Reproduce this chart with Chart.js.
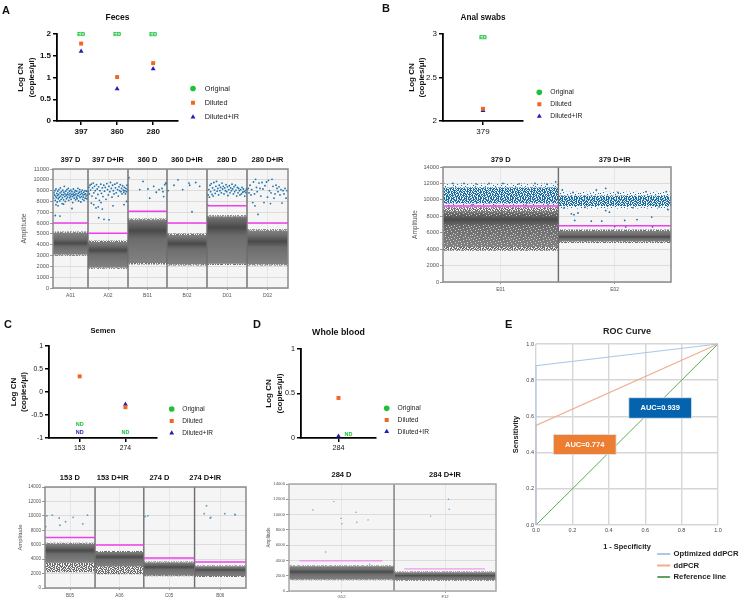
<!DOCTYPE html>
<html>
<head>
<meta charset="utf-8">
<title>ddPCR droplet plots and ROC curve</title>
<script src="https://cdn.jsdelivr.net/npm/chart.js@4"></script>
<style>
  html, body { margin: 0; width: 741px; height: 602px; overflow: hidden; background: #fff; }
  canvas { position: absolute; filter: blur(0.4px); }
  .letter { position: absolute; font: bold 11px/12px "Liberation Sans", Arial, sans-serif; color: #111; filter: blur(0.3px); }
</style>
</head>
<body>
<div class="letter" style="left:2px;top:4px">A</div>
<div class="letter" style="left:382px;top:2px">B</div>
<div class="letter" style="left:4px;top:318px">C</div>
<div class="letter" style="left:253px;top:318px">D</div>
<div class="letter" style="left:505px;top:318px">E</div>
<script>
Chart.defaults.font.family = '"Liberation Sans", Arial, sans-serif';
Chart.defaults.animation = false;

const seriesNames = ["Original", "Diluted", "Diluted+IR"];
const seriesColors = ["#1fc13a", "#f26522", "#1f1fb4"];
const seriesShapes = ["circle", "rect", "triangle"];

// log copy number panels
const fecesSamples = ["397", "360", "280"];
const fecesOriginal = [2, 2, 1.99];
const fecesDiluted = [1.78, 1.01, 1.33];
const fecesIR = [1.6, 0.74, 1.2];
const fecesOriginalTags = ["ED", "ED", "ED"];

const analSamples = ["379"];
const analOriginal = [2.96];
const analDiluted = [2.14];
const analIR = [2.12];
const analOriginalTags = ["ED"];

const semenSamples = ["153", "274"];
const semenOriginal = [-0.7, -0.89];
const semenDiluted = [0.34, -0.33];
const semenIR = [-0.89, -0.27];
const semenOriginalTags = ["ND", "ND"];
const semenIRTags = ["ND", null];

const bloodSamples = ["284"];
const bloodOriginal = [0.035];
const bloodDiluted = [0.45];
const bloodIR = [0.02];
const bloodOriginalTags = ["ND"];

// droplet plots, x axis is the droplet event number
const fecesEdges = [0, 3500, 7500, 11400, 15400, 19400, 23500];
const fecesWells = ["A01", "A02", "B01", "B02", "D01", "D02"];
const fecesTitles = ["397 D", "397 D+IR", "360 D", "360 D+IR", "280 D", "280 D+IR"];
const fecesThresholds = [6000, 5050, 7100, 6000, 7600, 6000];
const fecesLow = [3100, 1900, 2300, 2200, 2250, 2200];
const fecesCore = [4150, 3500, 5300, 4100, 5600, 4300];
const fecesHigh = [5100, 4250, 6300, 4900, 6600, 5300];
const fecesFringe = [130, 130, 130, 130, 130, 130];
const fecesPositive = [
  [60,8300],[100,8800],[150,8600],[190,9000],[230,8100],[260,8500],[300,9150],[340,8350],[380,8750],[420,7950],
  [450,8550],[480,8950],[530,8250],[560,8650],[590,9100],[630,8400],[670,8050],[700,8800],[740,9250],[770,8500],
  [810,8200],[840,8900],[880,8650],[910,7800],[950,8350],[980,9050],[1020,8600],[1060,8150],[1090,8850],[1130,9400],
  [1170,8450],[1200,8700],[1240,8000],[1270,8950],[1310,8550],[1350,8250],[1380,9100],[1420,8650],[1460,8400],[1490,8800],
  [1530,9200],[1570,8100],[1600,8600],[1640,8950],[1680,8350],[1710,8750],[1750,8500],[1790,9050],[1820,8200],[1860,8650],
  [1900,8900],[1930,8450],[1970,7900],[2010,8700],[2040,9150],[2080,8550],[2120,8300],[2150,8850],[2190,8600],[2230,9000],
  [2260,8150],[2300,8700],[2340,8400],[2370,8950],[2410,8250],[2450,8550],[2490,9200],[2520,8750],[2560,8050],[2600,8500],
  [2630,8850],[2670,9100],[2710,8350],[2740,8650],[2780,7950],[2820,8900],[2850,8450],[2890,8750],[2930,9050],[2960,8200],
  [3000,8600],[3040,8400],[3070,8850],[3110,8100],[3150,8650],[3190,9000],[3220,8300],[3260,8700],[3300,8500],[3340,8950],
  [3380,8250],[3440,8600],[300,7700],[500,7600],[230,6700],[700,6650],[1050,7750],[1900,7350],
  [3530,8900],[3580,9300],[3640,8700],[3700,9500],[3760,9050],[3830,9600],[3900,8500],[3960,9250],[4020,9700],[4080,8800],
  [4150,9400],[4220,9000],[4290,8300],[4350,9550],[4420,9150],[4490,8650],[4560,9350],[4640,8100],[4700,9000],[4780,9600],
  [4850,8750],[4930,9250],[5000,8450],[5080,9500],[5150,8950],[5230,9300],[5300,8200],[5380,9650],[5450,9100],[5530,8600],
  [5600,9400],[5680,8900],[5750,9750],[5830,9200],[5900,8400],[5960,9500],[6030,9000],[6100,8700],[6180,9600],[6250,9250],
  [6320,8800],[6400,9700],[6460,9100],[6530,8500],[6600,9350],[6660,9000],[6730,9550],[6790,8900],[6850,9200],[6900,8700],
  [6960,9450],[7020,9050],[7080,8850],[7130,9300],[7190,9000],[7240,8700],[7290,9200],[7340,8900],[7400,9500],[7450,9100],
  [4570,6500],[5100,6350],[5600,6300],[4520,7500],[4070,7700],[4930,7300],[3830,7850],[6000,7600],[4300,7400],[4800,7900],
  [7350,8000],[7100,7700],
  [7600,10200],[9000,9850],[8670,9100],[9500,9150],[9670,8300],[10070,9400],[10600,9100],[10900,9200],[11070,8450],[11170,9550],
  [11270,9700],[11330,9650],[10330,8850],[11000,8900],
  [12500,10000],[12100,9500],[12970,9100],[13600,9700],[13670,9500],[14270,9750],[14670,9400],[13900,7050],[11500,9000],
  [15480,7650],[15520,8600],[15580,9100],[15640,8400],[15700,9500],[15760,8900],[15830,9650],[15900,8650],[15960,9250],[16020,8500],
  [16090,9750],[16150,9050],[16220,8750],[16290,9400],[16350,9850],[16420,8950],[16490,9200],[16560,8600],[16630,9500],[16700,9000],
  [16760,9300],[16830,8800],[16900,9700],[16960,9150],[17030,9400],[17100,8700],[17170,9250],[17240,9000],[17300,9550],[17370,8900],
  [17440,9350],[17500,8550],[17570,9100],[17640,9450],[17700,8800],[17770,9250],[17840,9000],[17900,9600],[17970,9150],[18040,8700],
  [18100,9350],[18170,8900],[18240,9500],[18300,9050],[18370,8500],[18440,9300],[18500,8800],[18570,9200],[18640,9000],[18700,8600],
  [18770,9100],[18840,8700],[18900,9300],[18970,8850],[19040,9150],[19100,8900],[19170,8500],[19240,9000],[19300,8800],[19360,9150],
  [19530,9200],[19600,8800],[19700,9500],[19800,8600],[19870,9100],[19980,7900],[20050,9800],[20150,8700],[20200,7600],[20260,10050],
  [20350,9300],[20420,8900],[20500,6800],[20600,9700],[20700,9200],[20780,8500],[20900,9750],[21000,9150],[21100,7900],[21200,9450],
  [21350,9800],[21450,8400],[21550,9950],[21650,9000],[21750,7800],[21800,8800],[21900,10050],[22000,9400],[22100,8300],[22200,8700],
  [22300,9500],[22400,9200],[22500,8900],[22600,9350],[22700,8600],[22800,9100],[22900,7850],[23000,9000],[23100,8700],[23200,9200],
  [23300,8300],[23400,9000]
];

const analEdges = [0, 11540, 22800];
const analWells = ["E01", "E02"];
const analTitles = ["379 D", "379 D+IR"];
const analThresholds = [9250, 6850];
const analLow = [4250, 4950];
const analCore = [7600, 5500];
const analHigh = [8650, 6200];
const analFringe = [450, 200];
const analCloudLow = [9600, 9250];
const analCloudHigh = [11500, 10500];
const analSpeckleLow = [4300, 8000];
const analSpeckleHigh = [7000, 8650];
const analPositive = [
  [11270,12200],[2100,12000],[6000,12000],[1000,12000],[3300,11950],[4600,12000],[7600,11950],[9200,12000],[10400,11900],
  [550,9300],[2900,9400],[5200,9300],[8300,9350],[10500,9400],
  [12840,8300],[13100,8200],[13500,8400],[13170,7500],[14830,7400],[15870,7400],[16270,8700],[16640,8500],[18170,7500],
  [19400,7600],[20870,7900],[17170,6750],[18270,6700],[20950,6700],[22500,8800],[15330,11200],[16270,11400],[11930,11200],
  [22330,11000],[20300,11000],[17500,10900],[13000,10900],[12100,9000],[14200,9100],[19000,9050],[21600,9150]
];

const semenEdges = [0, 5030, 9930, 15030, 20200];
const semenWells = ["B05", "A06", "C05", "B06"];
const semenTitles = ["153 D", "153 D+IR", "274 D", "274 D+IR"];
const semenTitleEvents = [2500, 6800, 11500, 16100];
const semenThresholds = [7000, 5950, 4150, 3600];
const semenLow = [3500, 3000, 1750, 1650];
const semenCore = [5200, 4300, 2900, 2500];
const semenHigh = [6150, 5000, 3550, 3000];
const semenFringe = [130, 130, 130, 130];
const semenLooseLow = [2200, 1900, 1650, 1550];
const semenLooseHigh = [3500, 3000, 1750, 1650];
const semenPositive = [
  [70,8500],[200,10000],[730,10100],[1430,9700],[1500,8700],[2070,9200],[2830,9800],[3800,8900],[4270,10100],
  [10070,9900],[10330,10000],[16000,10300],[16230,11400],[16600,9700],[16670,9800],[18070,10300],[19070,10200],[19130,10150]
];

const bloodEdges = [0, 10540, 20770];
const bloodWells = ["G12", "F12"];
const bloodTitles = ["284 D", "284 D+IR"];
const bloodThresholds = [3950, 2900];
const bloodThresholdFrom = [1070, 11570];
const bloodThresholdTo = [9370, 19670];
const bloodLow = [1500, 1450];
const bloodCore = [2500, 2000];
const bloodHigh = [3250, 2450];
const bloodFringe = [100, 100];
const bloodPositive = [
  [2400,10600],[3670,5100],[4500,11700],[5200,9500],[5300,8800],[6730,10300],[6800,9000],[7930,9300],[8100,3500],
  [14200,9800],[16070,10700],[16000,12000]
];

// ROC curve
const rocNames = ["Optimized ddPCR", "ddPCR", "Reference line"];
const rocColors = ["#a9c9ea", "#efae8e", "#4f9f4f"];
const rocFpr = [[0, 0, 1], [0, 0, 1], [0, 1]];
const rocTpr = [[0, 0.88, 1], [0, 0.55, 1], [0, 1]];
const rocTicks = [0, 0.2, 0.4, 0.6, 0.8, 1];
const aucLabels = ["AUC=0.939", "AUC=0.774"];
const aucColors = ["#0563ad", "#ed7d31"];
const aucLeft = [0.51, 0.095];
const aucRight = [0.855, 0.44];
const aucTop = [0.703, 0.5];
const aucBottom = [0.59, 0.39];

// texture tiles for droplet clouds too dense to list one by one
const denseTile = [
  "##.#.##.###..#.##.#..###.#.##.#.",
  ".#.###..#.##.#..###.##.#.###..##",
  "#.##.#.##..###.#.#.##.##..#.###.",
  "##..##.#.##.#.###..#.#.###.##..#",
  ".###.#.##.#..##.#.###.#..#.#.##.",
  "#.#.##..###.##.#.#..##.###.#.#.#",
  "##.#..###.#.#.###.##.#..#.###.#.",
  ".#.###.#.##..#.#.##.###.##.#..##",
  "#.##.#.#..###.##.#.#..#.#.###.#.",
  "##.#.##.##.#.#..###.##.###.#.#.#",
  ".#..###.#.###.#.#.##.#..#.##.##.",
  "#.##.#..##.#.###.#..###.#.#.#.##",
  "###.#.##.#.##..#.##.#.##.###.#..",
  ".#.##.#.###.#.##.#.###.#..#.##.#",
  "#..###.#.#..###.#.#.#.###.##.#.#",
  "##.#.##.#.##.#.##.##.#.#.##..##."
];
const sparseTile = [
  "....#.........#.....",
  ".#.......#.........#",
  "......#.......#.....",
  "...#........#....#..",
  "#.......#...........",
  ".....#.........#..#.",
  "..#.........#.......",
  ".......#.#.........#",
  "....#...........#...",
  "#.........#..#......",
  "......#.........#...",
  "..#.......#.........",
];

function tilePattern(rows, color) {
  const tile = document.createElement("canvas");
  tile.width = rows[0].length;
  tile.height = rows.length;
  const g = tile.getContext("2d");
  g.fillStyle = color;
  rows.forEach((row, y) => [...row].forEach((c, x) => { if (c === "#") g.fillRect(x, y, 1, 1); }));
  return g.createPattern(tile, "repeat");
}
const bluePattern = tilePattern(denseTile, "#1a6ea8");
const thinBluePattern = tilePattern(sparseTile, "#1a6ea8");
const grayPattern = tilePattern(denseTile, "#6e6e6e");
const whitePattern = tilePattern(sparseTile, "#cfcfcf");

function addCanvas(box) {
  const c = document.createElement("canvas");
  c.width = box.w;
  c.height = box.h;
  c.style.left = box.x + "px";
  c.style.top = box.y + "px";
  c.style.width = box.w + "px";
  c.style.height = box.h + "px";
  document.body.appendChild(c);
  return c;
}

//puts the legend where it sits in the figure, legend itself takes no layout room
function legendPlacer(box, x, y) {
  return {
    id: "legendPlacer",
    afterLayout(chart) {
      const lg = chart.legend;
      const pad = lg.options.labels.padding;
      const h = lg.options.labels.font.size;
      lg.left = x - box.x - pad;
      lg.right = lg.left + 200;
      lg.top = y - box.y - h / 2 - pad;
      lg.bottom = lg.top + 200;
    }
  };
}

//ED and ND are written in place of the marker
const tagPlugin = {
  id: "pointTags",
  afterDatasetsDraw(chart) {
    const ctx = chart.ctx;
    chart.data.datasets.forEach((ds, i) => {
      if (!ds.tags) return;
      chart.getDatasetMeta(i).data.forEach((el, k) => {
        if (!ds.tags[k]) return;
        const x = el.x + (ds.tagDx || 0);
        ctx.save();
        if (ds.tagBox) {
          ctx.fillStyle = ds.tagBox;
          ctx.fillRect(x - 3.8, el.y - 2.2, 7.6, 4.4);
        }
        ctx.font = 'bold 5.5px "Liberation Sans"';
        ctx.textAlign = "center";
        ctx.textBaseline = "middle";
        ctx.fillStyle = ds.tagColor;
        ctx.fillText(ds.tags[k], x, el.y);
        ctx.restore();
      });
    });
  }
};

function logChart(o) {
  const canvas = addCanvas(o.box);
  const numbers = o.samples.map((s, i) => i + 1);
  const points = vals => vals.map((v, i) => ({ x: numbers[i], y: v }));
  const hideTagged = tags => ctx => (tags && tags[ctx.dataIndex] ? 0 : 2.8);
  const padName = n => "   " + n;
  const axisFont = { size: o.tickSize, weight: o.tickWeight };
  const titleTop = o.titleY - o.box.y - o.titleSize * 0.6;
  new Chart(canvas, {
    type: "line",
    data: {
      datasets: [
        { label: padName(seriesNames[0]), data: points(o.original), tags: o.originalTags, tagColor: seriesColors[0],
          tagBox: o.tagBox, tagDx: o.tagDx, pointRadius: 0 },
        { label: padName(seriesNames[1]), data: points(o.diluted), pointRadius: 2.8 },
        { label: padName(seriesNames[2]), data: points(o.ir), tags: o.irTags, tagColor: seriesColors[2],
          pointRadius: hideTagged(o.irTags) }
      ].map((ds, i) => Object.assign(ds, {
        showLine: false,
        backgroundColor: seriesColors[i],
        borderColor: seriesColors[i],
        pointBorderWidth: 0,
        pointStyle: seriesShapes[i]
      }))
    },
    options: {
      responsive: false,
      layout: { padding: { right: o.box.x + o.box.w - o.plot.r, bottom: 0 } },
      plugins: {
        tooltip: { enabled: false },
        title: {
          display: true, text: o.title, fullSize: false, color: "#111",
          font: { size: o.titleSize, weight: "bold" },
          padding: { top: titleTop, bottom: o.plot.t - o.box.y - titleTop - o.titleSize * 1.2 }
        },
        legend: {
          position: "chartArea", align: "start",
          labels: {
            usePointStyle: true, boxWidth: 4, boxHeight: 4, padding: o.legendStep - o.legendSize,
            color: "#222", font: { size: o.legendSize }
          }
        }
      },
      scales: {
        x: {
          type: "linear", min: o.xMin, max: o.xMax,
          afterBuildTicks: s => { s.ticks = numbers.map(v => ({ value: v })); },
          afterFit: s => { s.height = o.box.y + o.box.h - o.plot.b; },
          border: { color: "#000", width: 1.8 },
          grid: { drawOnChartArea: false, color: "#000", lineWidth: 1.5, tickLength: 4 },
          ticks: { callback: (v, i) => o.samples[i], font: axisFont, color: "#111", padding: 2, autoSkip: false, maxRotation: 0 }
        },
        y: {
          min: o.yMin, max: o.yMax,
          afterFit: s => { s.width = o.plot.l - o.box.x; },
          border: { color: "#000", width: 1.8 },
          grid: { drawOnChartArea: false, color: "#000", lineWidth: 1.5, tickLength: 4 },
          ticks: { stepSize: o.yStep, callback: v => v, font: axisFont, color: "#111", padding: 2 },
          title: {
            display: true, text: ["Log CN", "(copies/μl)"], color: "#111", padding: 0,
            font: { size: 8, weight: "bold", lineHeight: o.titleLine }
          }
        }
      }
    },
    plugins: [tagPlugin, legendPlacer(o.box, o.legendX, o.legendY)]
  });
}

const plotBackground = {
  id: "plotBackground",
  beforeDraw(chart) {
    const a = chart.chartArea;
    chart.ctx.fillStyle = "#f5f5f5";
    chart.ctx.fillRect(a.left, a.top, a.width, a.height);
  },
  afterDraw(chart) {
    const a = chart.chartArea;
    chart.ctx.strokeStyle = chart.options.frameColor || "#8a8a8a";
    chart.ctx.lineWidth = 1.5;
    chart.ctx.strokeRect(a.left, a.top, a.width, a.height);
  }
};

//filled strip between two amplitudes across one well
function strip(x0, x1, low, high, fill, order) {
  return {
    data: [{ x: x0, y: high }, { x: x1, y: high }],
    fill: { value: low }, backgroundColor: fill,
    borderWidth: 0, pointRadius: 0, order: order
  };
}

//negative droplet band, darkest around the most crowded amplitude
function bandFill(low, core, high) {
  return ctx => {
    const y = ctx.chart.scales.y;
    if (!ctx.chart.chartArea || !y) return "#666";
    const top = y.getPixelForValue(high);
    const g = ctx.chart.ctx.createLinearGradient(0, top, 0, y.getPixelForValue(low));
    const f = (high - core) / (high - low);
    g.addColorStop(0, "#828282");
    g.addColorStop(Math.max(0, f - 0.18), "#6c6c6c");
    g.addColorStop(f, "#4a4a4a");
    g.addColorStop(Math.min(1, f + 0.18), "#6c6c6c");
    g.addColorStop(1, "#828282");
    return g;
  };
}

function dropletChart(o) {
  const canvas = addCanvas(o.box);
  const edges = o.edges;
  const last = edges[o.wells.length];
  const centers = o.wells.map((w, i) => (edges[i] + edges[i + 1]) / 2);
  const titleEvents = o.titleEvents || centers;
  const datasets = [];
  o.wells.forEach((w, i) => {
    const x0 = edges[i];
    const x1 = edges[i + 1];
    const from = o.thresholdFrom ? o.thresholdFrom[i] : x0;
    const to = o.thresholdTo ? o.thresholdTo[i] : x1;
    datasets.push({
      data: [{ x: from, y: o.thresholds[i] }, { x: to, y: o.thresholds[i] }],
      borderColor: o.thresholdColor || "#ee3fee", borderWidth: o.thresholdWidth || 1.5, pointRadius: 0, order: 0
    });
    datasets.push(strip(x0, x1, o.low[i], o.high[i], bandFill(o.low[i], o.core[i], o.high[i]), 5));
    datasets.push(strip(x0, x1, o.high[i], o.high[i] + o.fringe[i], grayPattern, 4));
    datasets.push(strip(x0, x1, o.low[i] - o.fringe[i], o.low[i], grayPattern, 4));
    if (o.looseLow) datasets.push(strip(x0, x1, o.looseLow[i], o.looseHigh[i], grayPattern, 4));
    if (o.cloudLow) {
      datasets.push(strip(x0, x1, o.cloudLow[i], o.cloudHigh[i], bluePattern, 3));
      datasets.push(strip(x0, x1, o.cloudHigh[i], o.cloudHigh[i] + 500, thinBluePattern, 3));
      datasets.push(strip(x0, x1, o.cloudLow[i] - 300, o.cloudLow[i], thinBluePattern, 3));
    }
    if (i > 0) {
      datasets.push({
        data: [{ x: x0, y: 0 }, { x: x0, y: o.yMax }],
        borderColor: o.dividerColor || "#6c6c6c", borderWidth: 1.4, pointRadius: 0, order: 1
      });
    }
  });
  //the pale flecks only fall inside the first well of panel B
  if (o.speckleLow) {
    o.speckleLow.forEach((lo, k) => {
      datasets.push(strip(edges[0], edges[1], lo, o.speckleHigh[k], whitePattern, 3));
    });
  }
  datasets.push({
    data: o.positive.map(p => ({ x: p[0], y: p[1] })),
    showLine: false, pointRadius: o.dotSize, pointBorderWidth: 0,
    backgroundColor: o.dotColor, borderColor: o.dotColor, order: 2
  });
  new Chart(canvas, {
    type: "line",
    data: { datasets: datasets },
    options: {
      responsive: false,
      frameColor: o.frameColor,
      layout: { padding: { right: o.box.x + o.box.w - o.plot.r } },
      plugins: { legend: { display: false }, tooltip: { enabled: false } },
      scales: {
        x: {
          type: "linear", min: 0, max: last,
          afterBuildTicks: s => { s.ticks = centers.map(v => ({ value: v })); },
          afterFit: s => { s.height = o.box.y + o.box.h - o.plot.b; },
          border: { display: false },
          grid: { color: "#e6e6e6", tickColor: "#999", tickLength: 2 },
          ticks: { callback: (v, i) => o.wells[i], font: { size: o.wellSize }, color: "#555", padding: o.wellPad, autoSkip: false, maxRotation: 0 }
        },
        xTop: {
          type: "linear", position: "top", min: 0, max: last,
          afterBuildTicks: s => { s.ticks = titleEvents.map(v => ({ value: v })); },
          afterFit: s => { s.height = o.plot.t - o.box.y; },
          border: { display: false },
          grid: { display: false, drawTicks: false },
          ticks: { callback: (v, i) => o.titles[i], font: { size: 7.5, weight: "bold" }, color: "#111", padding: o.titlePad, autoSkip: false, maxRotation: 0 }
        },
        y: {
          min: 0, max: o.yMax,
          afterFit: s => { s.width = o.plot.l - o.box.x; },
          border: { display: false },
          grid: { color: "#dcdcdc", lineWidth: 1, tickColor: "#999", tickLength: 3 },
          ticks: { stepSize: o.yStep, callback: v => v, font: { size: o.ampTickSize }, color: "#555", padding: 1 },
          title: { display: true, text: "Amplitude", color: "#555", padding: 0, font: { size: o.ampSize } }
        }
      }
    },
    plugins: [plotBackground]
  });
}

// A, feces
logChart({
  box: { x: 15, y: 8, w: 240, h: 132 }, plot: { l: 57, t: 34, r: 178, b: 121 },
  title: "Feces", titleSize: 8.5, titleY: 18, titleLine: 1.4,
  samples: fecesSamples, original: fecesOriginal, diluted: fecesDiluted, ir: fecesIR,
  originalTags: fecesOriginalTags, tagBox: "#b5edc0",
  xMin: 0.33, xMax: 3.69, yMin: 0, yMax: 2, yStep: 0.5,
  tickSize: 8, tickWeight: "bold",
  legendX: 191, legendY: 88.5, legendStep: 14.3, legendSize: 7.3
});
dropletChart({
  box: { x: 20, y: 152, w: 272, h: 152 }, plot: { l: 53, t: 169, r: 288, b: 288 },
  edges: fecesEdges, wells: fecesWells, titles: fecesTitles, thresholds: fecesThresholds,
  low: fecesLow, core: fecesCore, high: fecesHigh, positive: fecesPositive, fringe: fecesFringe,
  yMax: 11000, yStep: 1000, dotSize: 0.9, dotColor: "#1b72ad",
  wellSize: 5, wellPad: 2.5, titlePad: 5, ampTickSize: 5.6, ampSize: 6.8
});

// B, anal swabs
logChart({
  box: { x: 406, y: 8, w: 240, h: 132 }, plot: { l: 443, t: 34, r: 523, b: 121 },
  title: "Anal swabs", titleSize: 8.2, titleY: 18, titleLine: 1.35,
  samples: analSamples, original: analOriginal, diluted: analDiluted, ir: analIR,
  originalTags: analOriginalTags, tagBox: "#b5edc0",
  xMin: 0, xMax: 2, yMin: 2, yMax: 3, yStep: 0.5,
  tickSize: 8, tickWeight: "normal",
  legendX: 537.3, legendY: 92.3, legendStep: 12, legendSize: 6.8
});
dropletChart({
  box: { x: 411, y: 150, w: 264, h: 146 }, plot: { l: 443, t: 167, r: 671, b: 282 },
  edges: analEdges, wells: analWells, titles: analTitles, thresholds: analThresholds,
  low: analLow, core: analCore, high: analHigh, positive: analPositive, fringe: analFringe,
  cloudLow: analCloudLow, cloudHigh: analCloudHigh, speckleLow: analSpeckleLow, speckleHigh: analSpeckleHigh,
  yMax: 14000, yStep: 2000, dotSize: 0.9, dotColor: "#1b72ad",
  wellSize: 5, wellPad: 3, titlePad: 3, ampTickSize: 5.6, ampSize: 6.5
});

// C, semen
logChart({
  box: { x: 8, y: 326, w: 230, h: 130 }, plot: { l: 49, t: 346, r: 157, b: 438 },
  title: "Semen", titleSize: 7.6, titleY: 331, titleLine: 1.35,
  samples: semenSamples, original: semenOriginal, diluted: semenDiluted, ir: semenIR,
  originalTags: semenOriginalTags, irTags: semenIRTags,
  xMin: 0.33, xMax: 2.69, yMin: -1, yMax: 1, yStep: 0.5,
  tickSize: 6.8, tickWeight: "normal",
  legendX: 169.7, legendY: 409, legendStep: 12, legendSize: 6.5
});
dropletChart({
  box: { x: 17, y: 468, w: 233, h: 134 }, plot: { l: 45, t: 487, r: 247, b: 588 },
  edges: semenEdges, wells: semenWells, titles: semenTitles, titleEvents: semenTitleEvents, thresholds: semenThresholds,
  low: semenLow, core: semenCore, high: semenHigh, positive: semenPositive, fringe: semenFringe,
  looseLow: semenLooseLow, looseHigh: semenLooseHigh,
  yMax: 14000, yStep: 2000, dotSize: 0.9, dotColor: "#5b9dc6",
  wellSize: 4.6, wellPad: 2.5, titlePad: 5, ampTickSize: 4.6, ampSize: 5.9
});

// D, whole blood
logChart({
  box: { x: 264, y: 326, w: 230, h: 130 }, plot: { l: 301, t: 349, r: 376, b: 438 },
  title: "Whole blood", titleSize: 8.8, titleY: 333, titleLine: 1.3,
  samples: bloodSamples, original: bloodOriginal, diluted: bloodDiluted, ir: bloodIR,
  originalTags: bloodOriginalTags, tagDx: 10,
  xMin: 0, xMax: 2, yMin: 0, yMax: 1, yStep: 0.5,
  tickSize: 7.2, tickWeight: "normal",
  legendX: 384.7, legendY: 408.3, legendStep: 11.7, legendSize: 6.7
});
dropletChart({
  box: { x: 266, y: 466, w: 234, h: 136 }, plot: { l: 289, t: 484, r: 497, b: 591 },
  edges: bloodEdges, wells: bloodWells, titles: bloodTitles, thresholds: bloodThresholds,
  thresholdFrom: bloodThresholdFrom, thresholdTo: bloodThresholdTo, thresholdColor: "#ee9bee", thresholdWidth: 1.4,
  low: bloodLow, core: bloodCore, high: bloodHigh, positive: bloodPositive, fringe: bloodFringe,
  frameColor: "#a8a8a8", dividerColor: "#7a7a7a",
  yMax: 14000, yStep: 2000, dotSize: 0.7, dotColor: "#5b9dc6",
  wellSize: 4.2, wellPad: 1, titlePad: 5, ampTickSize: 4.2, ampSize: 4.5
});

// E, ROC curve
const rocBox = { x: 511, y: 322, w: 230, h: 265 };
const aucPlugin = {
  id: "aucBoxes",
  afterDatasetsDraw(chart) {
    const { ctx, scales: { x, y } } = chart;
    aucLabels.forEach((label, i) => {
      const l = x.getPixelForValue(aucLeft[i]);
      const r = x.getPixelForValue(aucRight[i]);
      const t = y.getPixelForValue(aucTop[i]);
      const b = y.getPixelForValue(aucBottom[i]);
      ctx.fillStyle = aucColors[i];
      ctx.fillRect(l, t, r - l, b - t);
      ctx.strokeStyle = "#dfe6ee";
      ctx.lineWidth = 0.8;
      ctx.strokeRect(l, t, r - l, b - t);
      ctx.font = 'bold 7.5px "Liberation Sans"';
      ctx.textAlign = "center";
      ctx.textBaseline = "middle";
      ctx.fillStyle = "#fff";
      ctx.fillText(label, (l + r) / 2, (t + b) / 2);
    });
  }
};
new Chart(addCanvas(rocBox), {
  type: "line",
  data: {
    datasets: rocNames.map((name, i) => ({
      label: name,
      data: rocFpr[i].map((v, k) => ({ x: v, y: rocTpr[i][k] })),
      borderColor: rocColors[i], backgroundColor: rocColors[i],
      borderWidth: i === 2 ? 0.9 : 1.1, pointRadius: 0, tension: 0, clip: false
    }))
  },
  options: {
    responsive: false,
    layout: { padding: { right: 23, bottom: rocBox.y + rocBox.h - 551 } },
    plugins: {
      tooltip: { enabled: false },
      title: {
        display: true, text: "ROC Curve", fullSize: false, color: "#222",
        font: { size: 9, weight: "bold" }, padding: { top: 4.6, bottom: 6.6 }
      },
      legend: {
        position: "chartArea", align: "start",
        labels: { boxWidth: 12, boxHeight: 1, padding: 3.8, color: "#222", font: { size: 7.7, weight: "bold" } }
      }
    },
    scales: {
      x: {
        type: "linear", min: 0, max: 1,
        afterBuildTicks: s => { s.ticks = rocTicks.map(v => ({ value: v })); },
        afterFit: s => { s.height = 26; },
        border: { display: false },
        grid: { color: "#d6d6d6", lineWidth: 1.4, drawTicks: false },
        ticks: { callback: v => v.toFixed(1), font: { size: 5.5 }, color: "#444", padding: 2 },
        title: { display: true, text: "1 - Specificity", color: "#222", padding: 0, font: { size: 7.4, weight: "bold" } }
      },
      y: {
        min: 0, max: 1,
        afterBuildTicks: s => { s.ticks = rocTicks.map(v => ({ value: v })); },
        afterFit: s => { s.width = 25; },
        border: { display: false },
        grid: { color: "#d6d6d6", lineWidth: 1.4, drawTicks: false },
        ticks: { callback: v => v.toFixed(1), font: { size: 5.5 }, color: "#444", padding: 2 },
        title: { display: true, text: "Sensitivity", color: "#222", padding: 0, font: { size: 7.5, weight: "bold" } }
      }
    }
  },
  plugins: [aucPlugin, legendPlacer(rocBox, 657.7, 554)]
});
</script>
</body>
</html>
